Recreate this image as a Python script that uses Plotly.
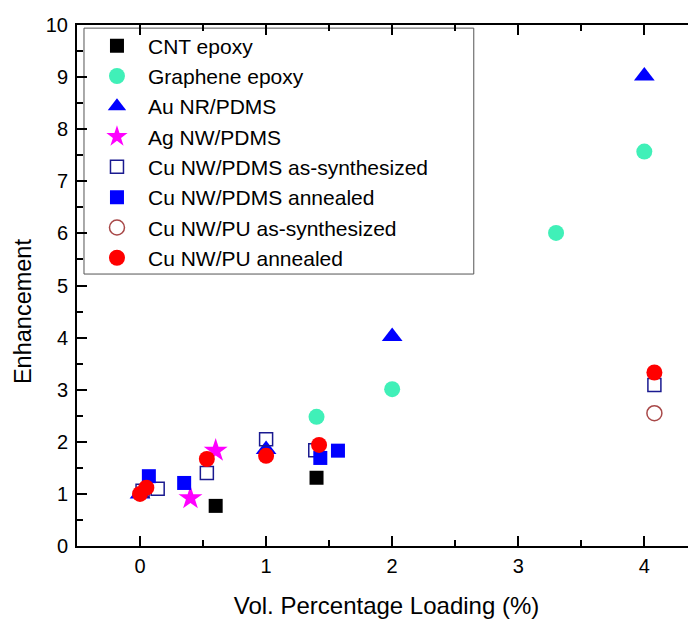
import plotly.graph_objects as go

# ---- data ----
cnt_x = [0.60, 1.40]
cnt_y = [0.77, 1.31]

graphene_x = [1.40, 2.00, 3.30, 4.00]
graphene_y = [2.48, 3.01, 6.01, 7.57]

au_x = [0.00, 1.00, 2.00, 4.00]
au_y = [1.00, 1.85, 4.02, 9.02]

ag_x = [0.40, 0.60]
ag_y = [0.92, 1.83]

cu_pdms_as_x = [0.02, 0.14, 0.53, 1.00, 1.39, 4.08]
cu_pdms_as_y = [1.06, 1.10, 1.40, 2.05, 1.84, 3.09]

cu_pdms_an_x = [0.07, 0.35, 1.43, 1.57]
cu_pdms_an_y = [1.34, 1.21, 1.69, 1.83]

cu_pu_as_x = [4.08]
cu_pu_as_y = [2.55]

cu_pu_an_x = [0.00, 0.05, 0.53, 1.00, 1.42, 4.08]
cu_pu_an_y = [1.00, 1.12, 1.67, 1.73, 1.94, 3.33]

x_ticks = [0, 1, 2, 3, 4]
y_ticks = [0, 1, 2, 3, 4, 5, 6, 7, 8, 9, 10]

FONT = "Liberation Sans, Arial, sans-serif"

fig = go.Figure()

def add(name, xs, ys, marker):
    fig.add_trace(go.Scatter(x=xs, y=ys, mode="markers", name=name, marker=marker))

add("CNT epoxy", cnt_x, cnt_y, dict(symbol="square", size=14, color="#000000"))
add("Graphene epoxy", graphene_x, graphene_y, dict(symbol="circle", size=16, color="#40F0B8"))
add("Au NR/PDMS", au_x, au_y, dict(symbol="triangle-up", size=18, color="#0000FF"))
add("Ag NW/PDMS", ag_x, ag_y, dict(symbol="star", size=18, color="#FF00FF"))
add("Cu NW/PDMS as-synthesized", cu_pdms_as_x, cu_pdms_as_y,
    dict(symbol="square-open", size=13, color="#1A1A90", line=dict(width=1.5)))
add("Cu NW/PDMS annealed", cu_pdms_an_x, cu_pdms_an_y, dict(symbol="square", size=14, color="#0000FF"))
add("Cu NW/PU as-synthesized", cu_pu_as_x, cu_pu_as_y,
    dict(symbol="circle-open", size=15, color="#A84848", line=dict(width=1.5)))
add("Cu NW/PU annealed", cu_pu_an_x, cu_pu_an_y, dict(symbol="circle", size=16, color="#FF0000"))

# the page body has an 8px default margin, so the figure is sized to fit the window
fig.update_layout(
    width=688, height=611,
    margin=dict(l=69, r=0, t=17, b=73),
    paper_bgcolor="white", plot_bgcolor="white",
    font=dict(family=FONT, size=20, color="black"),
    showlegend=True,
    legend=dict(
        x=0.0145, y=0.999, xanchor="left", yanchor="top",
        bgcolor="rgba(0,0,0,0)", borderwidth=0,
        font=dict(family=FONT, size=21, color="black"),
        itemwidth=52, tracegroupgap=0,
    ),
    # legend frame (wider than the text, as in the reference)
    shapes=[dict(
        type="rect", xref="paper", yref="paper",
        x0=0.0113, x1=0.641, y0=0.522, y1=0.994,
        line=dict(color="#555555", width=1), fillcolor="white", layer="below",
    )],
    xaxis=dict(
        range=[-0.5, 4.41], tickvals=x_ticks, ticktext=[str(v) for v in x_ticks],
        showline=True, linecolor="black", linewidth=2, mirror="ticks",
        ticks="inside", ticklen=10, tickwidth=2, tickcolor="black",
        minor=dict(ticks="inside", ticklen=6, tickwidth=2, tickcolor="black", dtick=0.5),
        showgrid=False, zeroline=False,
        tickfont=dict(family=FONT, size=20),
        ticklabelstandoff=1,
        title=dict(text="Vol. Percentage Loading (%)", font=dict(family=FONT, size=24), standoff=22),
    ),
    yaxis=dict(
        range=[0, 10], tickvals=y_ticks, ticktext=[str(v) for v in y_ticks],
        showline=True, linecolor="black", linewidth=2, mirror=False,
        ticks="inside", ticklen=10, tickwidth=2, tickcolor="black",
        minor=dict(ticks="inside", ticklen=6, tickwidth=2, tickcolor="black", dtick=0.5),
        showgrid=False, zeroline=False,
        tickfont=dict(family=FONT, size=20),
        ticklabelstandoff=3,
    ),
    annotations=[dict(
        text="Enhancement", textangle=-90, showarrow=False,
        xref="paper", x=0, xanchor="center", xshift=-54,
        yref="y", y=4.49, yanchor="middle",
        font=dict(family=FONT, size=23.5, color="black"),
    )],
)

fig.write_html("out.html")
